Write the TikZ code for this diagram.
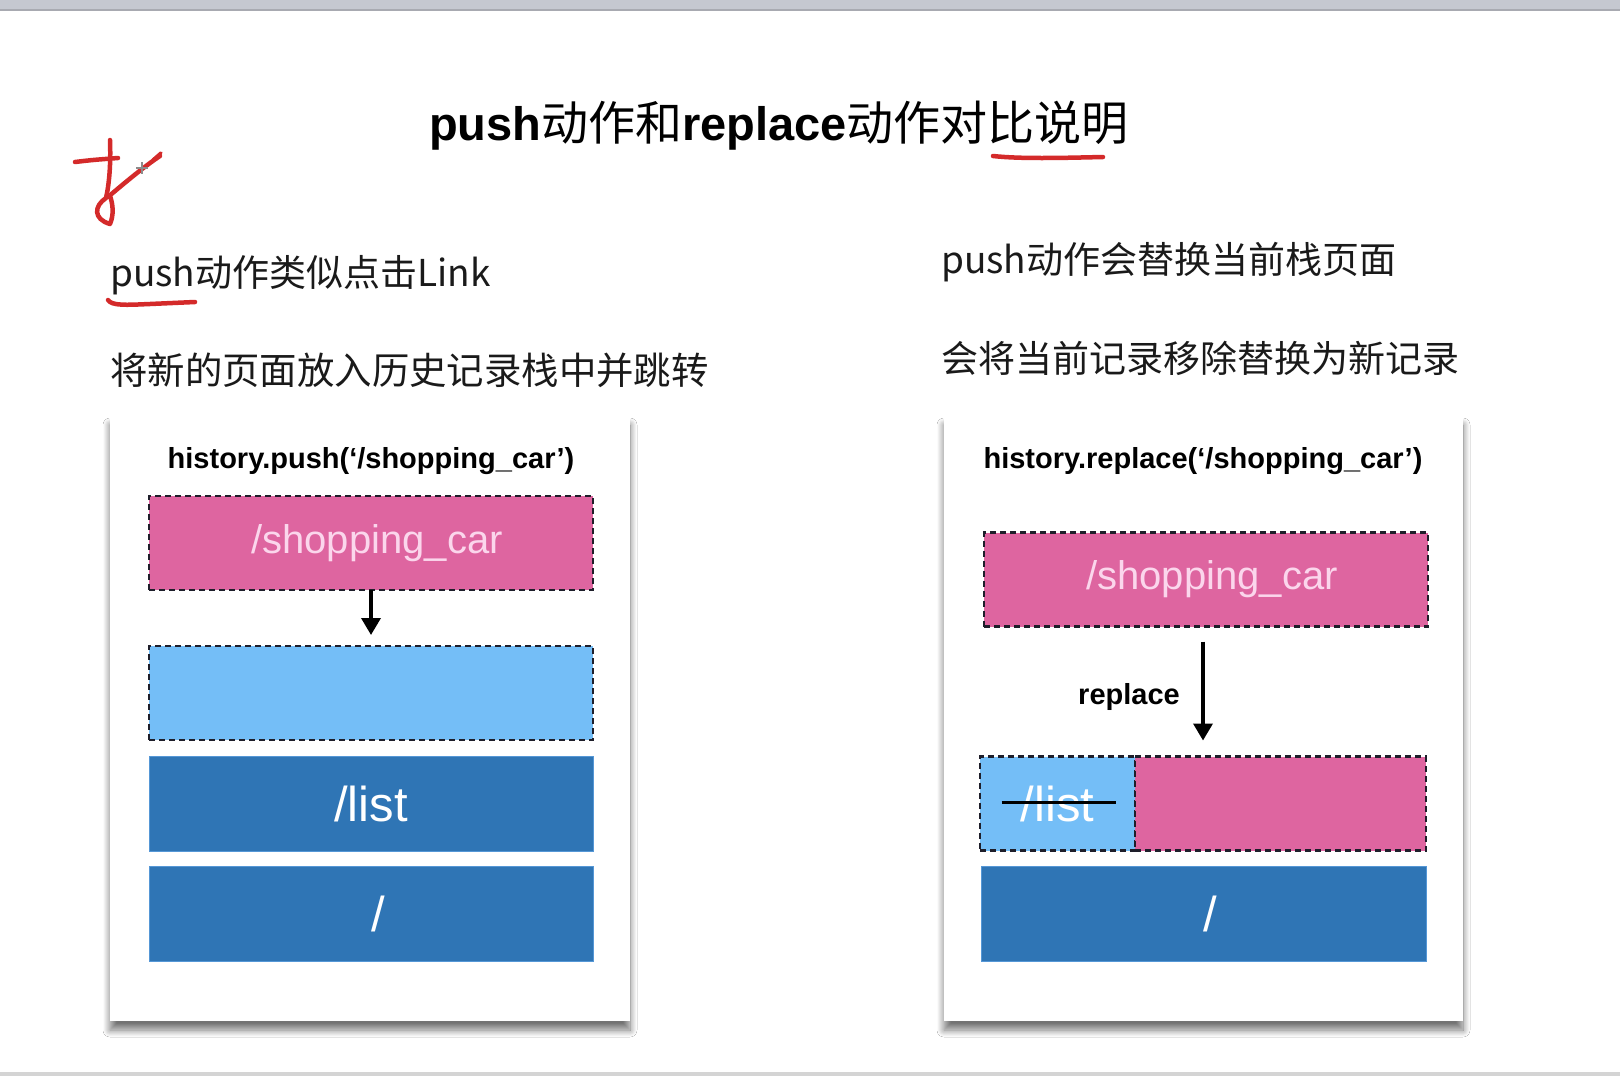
\documentclass[tikz,border=0pt]{standalone}
\usepackage{fontspec}
\setmainfont{Liberation Sans}
\newfontfamily\cjk{Noto Sans CJK SC}
\usetikzlibrary{arrows.meta,shadows.blur}
\definecolor{pinkfill}{HTML}{DE65A0}
\definecolor{pinktext}{HTML}{FBD6EC}
\definecolor{skyfill}{HTML}{74BEF7}
\definecolor{navyfill}{HTML}{2F75B5}
\definecolor{navyedge}{HTML}{5597D6}
\definecolor{dashink}{HTML}{1E1E2A}
\definecolor{inkred}{HTML}{D42A2A}
\definecolor{bargray}{HTML}{C5C8D0}
\definecolor{textgray}{HTML}{1A1A1A}
\begin{document}
\begin{tikzpicture}[x=1pt,y=-1pt,
  card/.style={draw=none, fill=white, inner sep=0pt, outer sep=0pt,
    blur shadow={shadow xshift=0pt, shadow yshift=-9pt,
      shadow blur radius=7pt, shadow blur steps=14, shadow opacity=55}},
  slot/.style={inner sep=0pt, outer sep=0pt},
  dashedslot/.style={slot, minimum height=94pt, draw=dashink, line width=2.4pt,
    dash pattern=on 6pt off 4pt},
  newpage/.style={dashedslot, fill=pinkfill, text=pinktext,
    font=\fontsize{40pt}{46pt}\selectfont},
  freeslot/.style={dashedslot, fill=skyfill, text=white,
    font=\fontsize{49pt}{56pt}\selectfont},
  oldpage/.style={slot, minimum height=95pt, fill=navyfill, draw=navyedge,
    line width=1pt, text=white, font=\fontsize{49pt}{56pt}\selectfont},
  code/.style={font=\bfseries\fontsize{29pt}{34pt}\selectfont, text=black},
  heading/.style={anchor=west, text=textgray, inner sep=0pt,
    font=\cjk\fontsize{37pt}{44pt}\selectfont},
  pusharrow/.style={line width=3.6pt, -{Triangle[width=19pt,length=17pt]}},
  redpen/.style={inkred, line width=4.5pt, line cap=round, line join=round},
]
\useasboundingbox (0,0) rectangle (1620,1076);
\fill[white] (0,0) rectangle (1620,1076);

% window chrome
\fill[bargray] (0,0) rectangle (1620,11);
\fill[bargray!85!black] (0,9) rectangle (1620,11);
\fill[black!17] (0,1072) rectangle (1620,1076);

% title
\node[text=black, font=\fontsize{47pt}{56pt}\selectfont] (title) at (779,126)
  {\bfseries push{\cjk\mdseries 动作和}replace{\cjk\mdseries 动作对比说明}};

% explanatory lines
\node[heading] (lhead1) at (110,275) {push动作类似点击Link};
\node[heading, font=\cjk\fontsize{37.4pt}{44pt}\selectfont] (lhead2) at (110,370) {将新的页面放入历史记录栈中并跳转};
\node[heading] (rhead1) at (941,262) {push动作会替换当前栈页面};
\node[heading] (rhead2) at (941,358) {会将当前记录移除替换为新记录};

% cards
\node[card, minimum width=520pt, minimum height=605pt] (lcard) at (370,718.5) {};
\node[card, minimum width=519pt, minimum height=605pt] (rcard) at (1203.5,718.5) {};

% push side
\node[code] (lcode) at (371,461) {history.push(‘/shopping\_car’)};
\node[newpage, minimum width=444pt] (lpink) at (371,543) {\hspace*{12pt}/shopping\_car};
\node[freeslot, minimum width=444pt] (lblue) at (371,693) {};
\node[oldpage, minimum width=444pt] (llist) at (371,803.5) {/list};
\node[oldpage, minimum width=444pt] (lroot) at (371,913.5) {\hspace*{14pt}/};
\draw[pusharrow, shorten >=11pt] (lpink.south) -- (lblue.north);

% replace side
\node[code] (rcode) at (1203,461) {history.replace(‘/shopping\_car’)};
\node[newpage, minimum width=444pt] (rpink) at (1206,579.5) {\hspace*{12pt}/shopping\_car};
\node[freeslot, minimum width=155pt] (rold) at (1057.5,803.5) {/list};
\node[dashedslot, fill=pinkfill, minimum width=291pt] (rnew) at (1280.5,803.5) {};
\node[oldpage, minimum width=445pt] (rroot) at (1203.5,913.5) {\hspace*{14pt}/};
\coordinate (rtop) at ([xshift=-3pt,yshift=-15pt]rpink.south);
\coordinate (rtip) at (rtop |- rnew.north);
\draw[pusharrow] (rtop) -- ([yshift=16pt]rtip);
\node[code] (rlabel) at (1129,697) {replace};
\draw[line width=3.6pt] ([xshift=-56pt,yshift=1pt]rold.center) -- ([xshift=58pt,yshift=1pt]rold.center);

% pen marks
\draw[redpen] (75,162) .. controls (92,160) .. (118,158);
\draw[redpen] (110,140) .. controls (111,165) and (109,185) .. (106,198)
  .. controls (94,206) and (93,219) .. (110,224)
  .. controls (114,215) and (113,204) .. (110,196);
\draw[redpen] (108,197) .. controls (128,180) and (145,166) .. (160,156);
\draw[redpen, line width=3.5pt] (153,160) -- (161,153);
\draw[black!45, line width=1.2pt] (136,168) -- (148,168) (142,162) -- (142,174);
\draw[redpen] (108,300) .. controls (112,306) and (126,305) .. (150,304) -- (195,302);
\draw[redpen] (993,156) .. controls (1020,159) and (1060,158) .. (1103,157);
\end{tikzpicture}
\end{document}
